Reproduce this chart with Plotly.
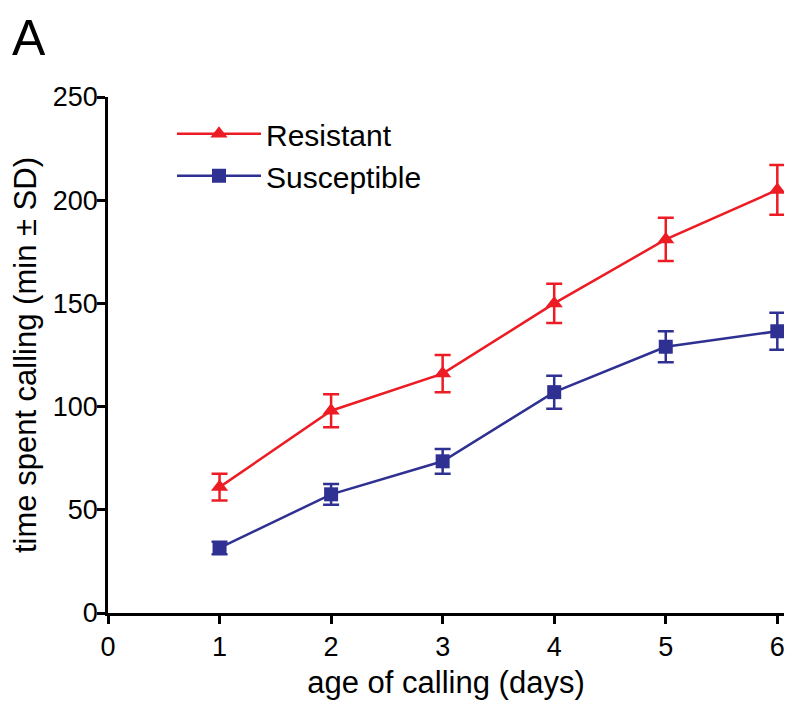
import plotly.graph_objects as go

days = [1, 2, 3, 4, 5, 6]
resistant_mean = [61, 98, 116, 150, 181, 205]
resistant_sd = [6.5, 8, 9, 9.5, 10.5, 12]
susceptible_mean = [31.5, 57.5, 73.5, 107, 129, 136.5]
susceptible_sd = [3, 5, 6, 8, 7.5, 9]

x_ticks = [0, 1, 2, 3, 4, 5, 6]
y_ticks = [0, 50, 100, 150, 200, 250]

RED = "#ED1C24"
BLUE = "#2E3192"
FONT = "Liberation Sans, Arial, Helvetica, sans-serif"

fig = go.Figure()
fig.add_trace(go.Scatter(
    x=days, y=resistant_mean, name="Resistant", mode="lines+markers",
    line=dict(color=RED, width=2.5),
    marker=dict(symbol="triangle-up", size=15, color=RED),
    error_y=dict(type="data", array=resistant_sd, visible=True,
                 color=RED, thickness=2.5, width=8),
))
fig.add_trace(go.Scatter(
    x=days, y=susceptible_mean, name="Susceptible", mode="lines+markers",
    line=dict(color=BLUE, width=2.5),
    marker=dict(symbol="square", size=14, color=BLUE),
    error_y=dict(type="data", array=susceptible_sd, visible=True,
                 color=BLUE, thickness=2.5, width=8),
))

axis_common = dict(
    showgrid=False, zeroline=False, showline=True, linecolor="black",
    linewidth=2.5, ticks="outside", ticklen=8, tickwidth=2.5,
    tickcolor="black", tickfont=dict(family=FONT, size=27, color="black"),
)

PLOT_W = 676
PLOT_T = 89
PLOT_H = 516
# The page body adds an 8px offset on every side; the figure is sized so that
# everything stays inside the visible area.
fig.update_layout(
    width=777, height=693,
    margin=dict(l=100, r=777 - 100 - PLOT_W, t=PLOT_T, b=693 - PLOT_T - PLOT_H,
                autoexpand=False),
    paper_bgcolor="white", plot_bgcolor="white",
    font=dict(family=FONT, color="black"),
    xaxis=dict(range=[0, 6.06], tickvals=x_ticks,
               title=dict(text="age of calling (days)",
                          font=dict(family=FONT, size=31), standoff=11),
               **axis_common),
    yaxis=dict(range=[0, 250], tickvals=y_ticks, ticklabelstandoff=-6,
               title=dict(text="time spent calling (min ± SD)",
                          font=dict(family=FONT, size=31), standoff=10),
               **axis_common),
    showlegend=True,
    legend=dict(x=(172 - 108) / PLOT_W, y=0.979, xanchor="left", yanchor="top",
                font=dict(family=FONT, size=30), bgcolor="rgba(0,0,0,0)",
                itemwidth=84, tracegroupgap=0),
    annotations=[dict(text="A", xref="paper", yref="paper",
                      x=-97 / PLOT_W, y=1 + (PLOT_T - 1) / PLOT_H,
                      xanchor="left", yanchor="top",
                      borderpad=0, showarrow=False,
                      font=dict(family=FONT, size=50, color="black"))],
)

fig.write_html("out.html")
